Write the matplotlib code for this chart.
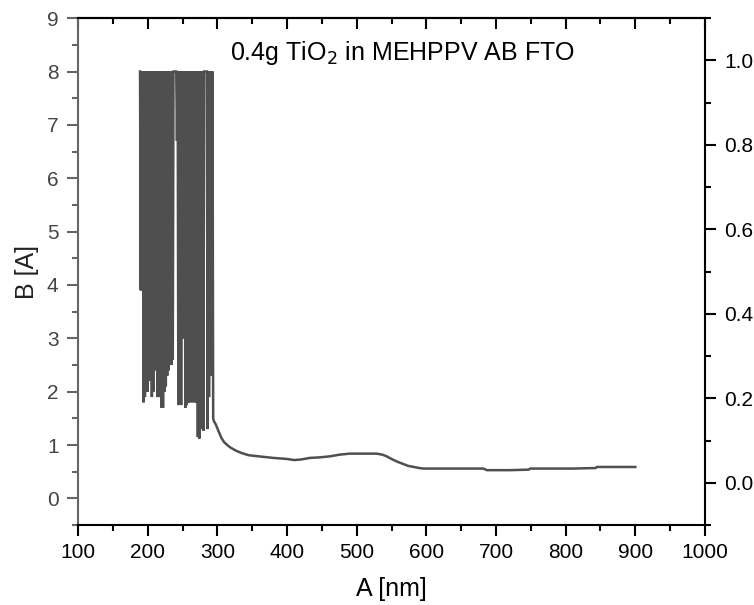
###Numpy
import numpy as np
###Matplotlib
import matplotlib
matplotlib.use("Agg")
import matplotlib.pyplot as plt
from matplotlib.ticker import MultipleLocator, FormatStrFormatter

############### Data #######################################

#Saturated / noisy part of the spectrum (1 nm steps)
wl_noise = [189, 190, 191, 192, 193, 194, 195, 196, 197, 198, 199, 200,
			201, 202, 203, 204, 205, 206, 207, 208, 209, 210, 211, 212,
			213, 214, 215, 216, 217, 218, 219, 220, 221, 222, 223, 224,
			225, 226, 227, 228, 229, 230, 231, 232, 233, 234, 235, 236,
			237, 238, 239, 240, 241, 242, 243, 244, 245, 246, 247, 248,
			249, 250, 251, 252, 253, 254, 255, 256, 257, 258, 259, 260,
			261, 262, 263, 264, 265, 266, 267, 268, 269, 270, 271, 272,
			273, 274, 275, 276, 277, 278, 279, 280, 281, 282, 283, 284,
			285, 286, 287, 288, 289, 290, 291, 292, 293, 294]
abs_noise = [8.0, 3.9, 8.0, 3.9, 8.0, 1.8, 8.0, 1.9, 8.0, 2.1, 8.0, 2.0,
			 8.0, 2.2, 8.0, 2.3, 8.0, 1.9, 8.0, 2.0, 8.0, 2.4, 8.0, 3.5,
			 8.0, 1.9, 8.0, 1.9, 8.0, 2.0, 8.0, 1.7, 8.0, 1.7, 8.0, 2.0,
			 8.0, 2.1, 8.0, 2.3, 8.0, 2.4, 8.0, 2.5, 8.0, 2.5, 8.0, 2.6,
			 8.0, 8.0, 8.0, 8.0, 8.0, 6.7, 8.0, 1.75, 8.0, 1.8, 8.0, 1.75,
			 8.0, 3.1, 8.0, 3.0, 8.0, 1.7, 8.0, 1.75, 8.0, 1.8, 8.0, 1.8,
			 8.0, 1.85, 8.0, 1.8, 8.0, 1.85, 8.0, 1.8, 8.0, 1.8, 8.0, 1.15,
			 8.0, 1.12, 8.0, 2.6, 8.0, 1.3, 8.0, 1.27, 8.0, 8.0, 8.0, 8.0,
			 8.0, 1.3, 8.0, 1.9, 8.0, 2.3, 8.0, 2.5, 8.0, 1.5]

#Smooth part of the spectrum
wl_smooth = [295, 298, 302, 306, 310, 318, 326, 335, 345, 352, 365, 380,
			 390, 400, 410, 420, 433, 447, 462, 475, 490, 510, 529, 537,
			 543, 550, 558, 566, 574, 582, 590, 596, 620, 650, 682, 687,
			 700, 720, 747, 749, 780, 810, 843, 845, 870, 900]
abs_smooth = [1.45, 1.38, 1.25, 1.13, 1.05, 0.96, 0.90, 0.85, 0.81, 0.80, 0.78, 0.76,
			  0.75, 0.74, 0.72, 0.73, 0.76, 0.77, 0.79, 0.82, 0.84, 0.84, 0.84, 0.82,
			  0.79, 0.74, 0.69, 0.65, 0.61, 0.59, 0.57, 0.56, 0.56, 0.56, 0.56, 0.53,
			  0.53, 0.53, 0.54, 0.56, 0.56, 0.56, 0.57, 0.59, 0.59, 0.59]

xticks = [100, 200, 300, 400, 500, 600, 700, 800, 900, 1000]
yticks_left = [0, 1, 2, 3, 4, 5, 6, 7, 8, 9]
yticks_right = [0.0, 0.2, 0.4, 0.6, 0.8, 1.0]

wavelength = np.array(wl_noise + wl_smooth)
absorbance = np.array(abs_noise + abs_smooth)

############### Plotting ################

plt.rcParams['font.family'] = ['Liberation Sans', 'DejaVu Sans']

fig = plt.figure(figsize=(7.54, 6.05), dpi=100)
ax = fig.add_axes([0.1035, 0.132, 0.8315, 0.838])

ax.plot(wavelength, absorbance, color='#4f4f4f', linewidth=1.8, solid_joinstyle='miter')

ax.set_xlim(100, 1000)
ax.set_ylim(-0.5, 9)
ax.set_xticks(xticks)
ax.set_yticks(yticks_left)
ax.xaxis.set_minor_locator(MultipleLocator(50))
ax.yaxis.set_minor_locator(MultipleLocator(0.5))

#left axis in grey, bottom in black
ax.spines['left'].set_color('#666666')
for side in ['left', 'bottom', 'top', 'right']:
	ax.spines[side].set_linewidth(1.5)
ax.spines['right'].set_visible(False)
ax.tick_params(axis='x', which='major', direction='out', length=8, width=1.5, labelsize=15, pad=5, colors='black')
ax.tick_params(axis='x', which='minor', direction='out', length=4, width=1.5)
ax.tick_params(axis='y', which='major', direction='out', length=8, width=1.5, labelsize=15, pad=6,
			   color='#666666', labelcolor='#444444')
ax.tick_params(axis='y', which='minor', direction='out', length=4, width=1.5, color='#666666')

ax.set_xlabel('A [nm]', fontsize=18, labelpad=11)
ax.set_ylabel('B [A]', fontsize=18, labelpad=6, color='#222222')

#top axis: inward ticks, no labels
top = ax.secondary_xaxis('top')
top.set_xticks(xticks)
top.xaxis.set_minor_locator(MultipleLocator(50))
top.tick_params(axis='x', which='major', direction='in', length=8, width=1.5, labeltop=False)
top.tick_params(axis='x', which='minor', direction='in', length=4, width=1.5)
top.spines['top'].set_linewidth(1.5)

#right axis (empty scale)
ax2 = ax.twinx()
ax2.set_ylim(-0.1, 1.1)
ax2.set_yticks(yticks_right)
ax2.yaxis.set_minor_locator(MultipleLocator(0.1))
ax2.yaxis.set_major_formatter(FormatStrFormatter('%.1f'))
for side in ['left', 'bottom', 'top']:
	ax2.spines[side].set_visible(False)
ax2.spines['right'].set_linewidth(1.5)
ax2.tick_params(axis='y', which='major', direction='out', length=8, width=1.5, labelsize=15, pad=6)
ax2.tick_params(axis='y', which='minor', direction='out', length=4, width=1.5)

ax.text(565, 8.35, r'0.4g TiO$_2$ in MEHPPV AB FTO', fontsize=18, ha='center', va='center')

plt.savefig('out.png', dpi=100)
